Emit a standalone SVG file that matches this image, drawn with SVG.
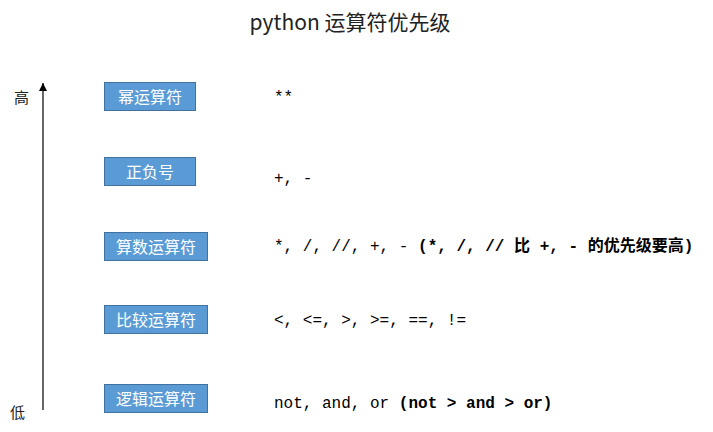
<svg xmlns="http://www.w3.org/2000/svg" width="713" height="432" viewBox="0 0 713 432">
<style>
.box{fill:#5B9BD5;stroke:#41719C;stroke-width:1}
.bt{font-family:"Noto Sans CJK SC",sans-serif;font-size:16px;fill:#fff;text-anchor:middle}
.mono{font-family:"Liberation Mono","Noto Sans CJK SC",monospace;font-size:16px;fill:#000}
.b{font-weight:bold}
.side{font-family:"Noto Sans CJK SC",serif;font-size:15px;fill:#222}
</style>
<defs>
<marker id="ah" markerWidth="8" markerHeight="8" refX="8" refY="4" orient="auto" markerUnits="userSpaceOnUse">
<path d="M0,0 L8,4 L0,8 Z" fill="#000"/>
</marker>
</defs>
<rect width="713" height="432" fill="#fff"/>
<text x="350" y="30" text-anchor="middle" font-family="'Noto Sans CJK SC',sans-serif" font-size="21" fill="#222">python 运算符优先级</text>
<g id="connectors">
<line x1="43" y1="410" x2="43" y2="83" stroke="#000" stroke-width="1.2" marker-end="url(#ah)"/>
</g>
<g id="high"><text class="side" x="14" y="103">高</text></g>
<g id="low"><text class="side" x="10" y="418">低</text></g>
<g id="n1">
<rect class="box" x="104.5" y="82.5" width="91" height="28"/>
<text class="bt" x="150" y="102.5">幂运算符</text>
<text class="mono" x="274" y="102">**</text>
</g>
<g id="n2">
<rect class="box" x="104.5" y="157.5" width="91" height="28"/>
<text class="bt" x="150" y="177.5">正负号</text>
<text class="mono" x="274" y="183">+, -</text>
</g>
<g id="n3">
<rect class="box" x="104.5" y="232.5" width="103" height="28"/>
<text class="bt" x="156" y="252.5">算数运算符</text>
<text class="mono" x="274" y="251">*, /, //, +, - <tspan class="b">(*, /, // 比 +, - 的优先级要高)</tspan></text>
</g>
<g id="n4">
<rect class="box" x="104.5" y="305.5" width="103" height="28"/>
<text class="bt" x="156" y="325.5">比较运算符</text>
<text class="mono" x="274" y="325">&lt;, &lt;=, &gt;, &gt;=, ==, !=</text>
</g>
<g id="n5">
<rect class="box" x="104.5" y="384.5" width="103" height="28"/>
<text class="bt" x="156" y="404.5">逻辑运算符</text>
<text class="mono" x="274" y="408">not, and, or <tspan class="b">(not &gt; and &gt; or)</tspan></text>
</g>
</svg>
